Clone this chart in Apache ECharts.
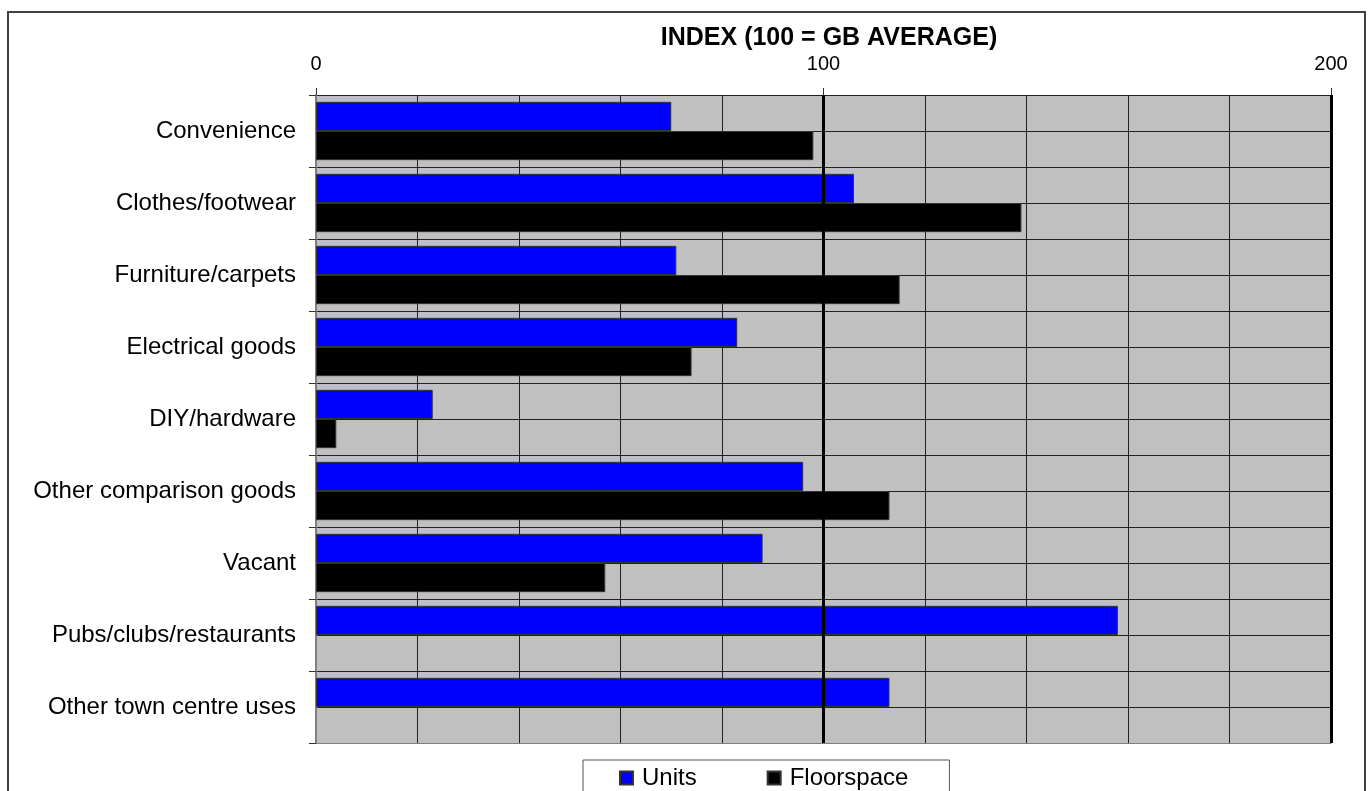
<!DOCTYPE html>
<html>
<head>
<meta charset="utf-8">
<script src="https://cdn.jsdelivr.net/npm/echarts@6/dist/echarts.min.js"></script>
<style>
  html, body { margin: 0; padding: 0; background: #fff; }
  #chart { width: 1368px; height: 791px; }
</style>
</head>
<body>
<div id="chart"></div>
<script>
// Data
const categories = [
  'Convenience',
  'Clothes/footwear',
  'Furniture/carpets',
  'Electrical goods',
  'DIY/hardware',
  'Other comparison goods',
  'Vacant',
  'Pubs/clubs/restaurants',
  'Other town centre uses'
];
const unitsValues = [70, 106, 71, 83, 23, 96, 88, 158, 113];
const floorspaceValues = [98, 139, 115, 74, 4, 113, 57, null, null];
const axisTitle = 'INDEX (100 = GB AVERAGE)';
const axisMin = 0;
const axisMax = 200;

const chart = echarts.init(document.getElementById('chart'));
const font = 'Liberation Sans, Arial, sans-serif';

const option = {
  animation: false,
  textStyle: { fontFamily: font },
  title: {
    text: axisTitle,
    left: 824,
    top: 21,
    textAlign: 'center',
    textStyle: { fontFamily: font, fontSize: 25, fontWeight: 'bold', color: '#000' }
  },
  graphic: [{
    type: 'rect',
    z: -10,
    shape: { x: 8, y: 12, width: 1357, height: 800 },
    style: { fill: 'none', stroke: '#404040', lineWidth: 2 }
  }],
  legend: {
    data: ['Units', 'Floorspace'],
    left: 583,
    top: 760,
    orient: 'horizontal',
    padding: [6, 41, 20, 36],
    itemWidth: 13,
    itemHeight: 13,
    itemGap: 70,
    borderColor: '#555',
    borderWidth: 1,
    icon: 'rect',
    textStyle: { fontFamily: font, fontSize: 24, color: '#000', padding: [0, 0, 0, 4] }
  },
  grid: {
    left: 316,
    right: 37,
    top: 95,
    bottom: 48,
    show: true,
    backgroundColor: '#C0C0C0',
    borderWidth: 0
  },
  xAxis: [
    {
      type: 'value',
      position: 'top',
      min: axisMin,
      max: axisMax,
      interval: 20,
      axisLine: { show: true, lineStyle: { color: '#808080', width: 1 } },
      axisTick: { show: false },
      axisLabel: { show: false },
      splitLine: { show: true, lineStyle: { color: '#222', width: 1 } }
    },
    {
      type: 'value',
      position: 'top',
      min: axisMin,
      max: axisMax,
      interval: 100,
      axisLine: { show: false },
      axisTick: { show: true, length: 7, lineStyle: { color: '#333' } },
      axisLabel: { show: true, fontSize: 20, color: '#000', margin: 21, fontFamily: font },
      splitLine: { show: false }
    }
  ],
  yAxis: [
    {
      type: 'category',
      data: categories,
      inverse: true,
      axisLine: { show: true, lineStyle: { color: '#808080', width: 2 } },
      axisTick: { show: true, length: 7, lineStyle: { color: '#333' } },
      axisLabel: { fontSize: 24, color: '#000', margin: 20, fontFamily: font },
      splitLine: { show: false }
    },
    {
      type: 'value',
      min: 0,
      max: 18,
      interval: 1,
      position: 'left',
      axisLine: { show: false },
      axisTick: { show: false },
      axisLabel: { show: false },
      splitLine: { show: true, lineStyle: { color: '#222', width: 1 } }
    }
  ],
  series: [
    {
      name: 'Units',
      type: 'bar',
      xAxisIndex: 0,
      yAxisIndex: 0,
      data: unitsValues,
      barGap: '0%',
      barCategoryGap: '19%',
      itemStyle: { color: '#0000FF', borderColor: '#333', borderWidth: 1 },
      markLine: {
        silent: true,
        symbol: 'none',
        label: { show: false },
        lineStyle: { color: '#000', width: 3, type: 'solid' },
        data: [{ xAxis: 100 }, { xAxis: 200 }]
      }
    },
    {
      name: 'Floorspace',
      type: 'bar',
      xAxisIndex: 0,
      yAxisIndex: 0,
      data: floorspaceValues,
      barGap: '0%',
      barCategoryGap: '19%',
      itemStyle: { color: '#000000', borderColor: '#333', borderWidth: 1 }
    }
  ]
};

chart.setOption(option);
</script>
</body>
</html>
